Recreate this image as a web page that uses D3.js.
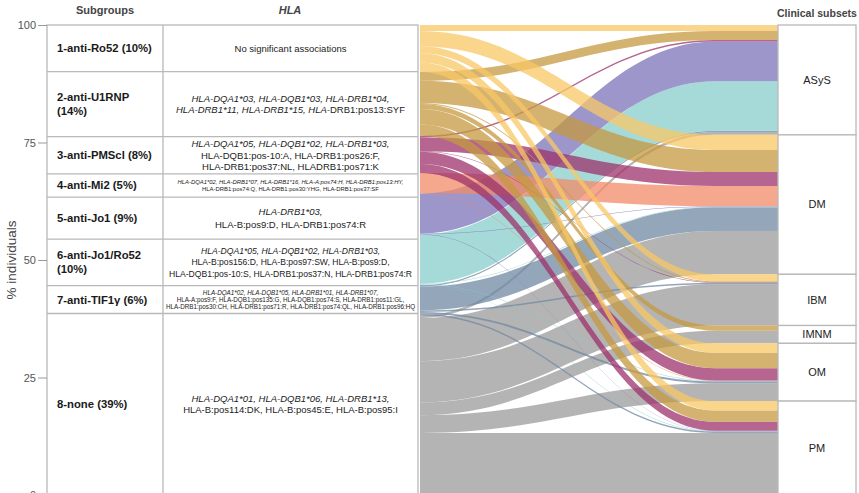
<!DOCTYPE html>
<html>
<head>
<meta charset="utf-8">
<script src="https://cdn.jsdelivr.net/npm/d3@7"></script>
<style>
  html, body { margin: 0; padding: 0; background: #fff; }
  svg { display: block; font-family: "Liberation Sans", Arial, Helvetica, sans-serif; }
</style>
</head>
<body>
<svg id="chart" width="859" height="493"></svg>
<script>
// ---------------- DATA ----------------
const subgroupLabels = [
  ["1-anti-Ro52 (10%)"],
  ["2-anti-U1RNP", "(14%)"],
  ["3-anti-PMScl (8%)"],
  ["4-anti-Mi2 (5%)"],
  ["5-anti-Jo1 (9%)"],
  ["6-anti-Jo1/Ro52", "(10%)"],
  ["7-anti-TIF1γ (6%)"],
  ["8-none (39%)"]
];
const subgroupPct = [10, 14, 8, 5, 9, 10, 6, 39];

const clinicalSubsets = ["ASyS", "DM", "IBM", "IMNM", "OM", "PM"];

// % individuals flowing from each subgroup (rows) to each clinical subset (columns)
const flowsSg1 = [1.3, 3.2, 1.5, 0.0, 2.0, 2.0];
const flowsSg2 = [1.9, 4.7, 0.2, 1.1, 3.3, 2.4];
const flowsSg3 = [0.3, 3.0, 0.1, 0.0, 2.6, 1.9];
const flowsSg4 = [0.0, 4.3, 0.0, 0.0, 0.1, 0.0];
const flowsSg5 = [8.5, 0.1, 0.0, 0.0, 0.0, 0.1];
const flowsSg6 = [10.5, 0.1, 0.0, 0.0, 0.1, 0.1];
const flowsSg7 = [0.3, 5.1, 0.3, 0.0, 0.4, 0.3];
const flowsSg8 = [0.6, 9.2, 8.8, 2.7, 3.8, 13.2];
const flowMatrix = [flowsSg1, flowsSg2, flowsSg3, flowsSg4, flowsSg5, flowsSg6, flowsSg7, flowsSg8];

const yTicks = [0, 25, 50, 75, 100];

// HLA associations: each row = lines; each line = segments [text, italic]
const hlaRows = [
  [[["No significant associations", false]]],
  [[["HLA-DQA1*03, HLA-DQB1*03, HLA-DRB1*04,", true]],
   [["HLA-DRB1*11,  HLA-DRB1*15, HLA-", true], ["DRB1:pos13:SYF", false]]],
  [[["HLA-DQA1*05, HLA-DQB1*02, HLA-DRB1*03,", true]],
   [["HLA-DQB1:pos-10:A, HLA-DRB1:pos26:F,", false]],
   [["HLA-DRB1:pos37:NL, HLADRB1:pos71:K", false]]],
  [[["HLA-DQA1*02, HLA-DRB1*07, HLA-DRB1*16, HLA-A:pos74:H, HLA-DRB1:pos13:HY,", true]],
   [["HLA-DRB1:pos74:Q, HLA-DRB1:pos30:YHG, HLA-DRB1:pos37:SF", false]]],
  [[["HLA-DRB1*03,", true]],
   [["HLA-B:pos9:D, HLA-DRB1:pos74:R", false]]],
  [[["HLA-DQA1*05, HLA-DQB1*02, HLA-DRB1*03,", true]],
   [["HLA-B:pos156:D, HLA-B:pos97:SW, HLA-B:pos9:D,", false]],
   [["HLA-DQB1:pos-10:S, HLA-DRB1:pos37:N, HLA-DRB1:pos74:R", false]]],
  [[["HLA-DQA1*02, HLA-DQB1*05, HLA-DRB1*01, HLA-DRB1*07,", true]],
   [["HLA-A:pos9:F, HLA-DQB1:pos135:G, HLA-DQB1:pos74:S, HLA-DRB1:pos11:GL,", false]],
   [["HLA-DRB1:pos30:CH, HLA-DRB1:pos71:R, HLA-DRB1:pos74:QL, HLA-DRB1:pos96:HQ", false]]],
  [[["HLA-DQA1*01, HLA-DQB1*06, HLA-DRB1*13,", true]],
   [["HLA-B:pos114:DK, HLA-B:pos45:E, HLA-B:pos95:I", false]]]
];

// ---------------- STYLE / LAYOUT ----------------
const flowColors = ["#F8C766", "#C69840", "#9C326A", "#F28B68", "#7C73BA", "#87CECC", "#7088A3", "#9B9B9B"];
const hlaFontSize = [9.5, 9.5, 9.5, 5.9, 9.5, 8.6, 6.3, 9.5];
const hlaLineGap  = [11, 11.5, 11.5, 7.2, 12.5, 11.5, 7.2, 11.5];
const gridColor = "#b9b9b9";

const svg = d3.select("#chart");
const xAxisLine = 47, xSubEnd = 163, xHlaEnd = 418;
const xFlowStart = 420, xFlowCurveEnd = 715, xFlowEnd = 778, xBoxEnd = 856;

const y = d3.scaleLinear().domain([0, 100]).range([495, 25]);

// ---------- flows ----------
const nS = flowMatrix.length, nD = clinicalSubsets.length;
const total = d3.sum(flowMatrix.flat());
const h = v => y(0) - y(v / total * 100);

const srcTop = [], dstTop = [];
let acc = y(100);
for (let i = 0; i < nS; i++) { srcTop.push(acc); acc += h(d3.sum(flowMatrix[i])); }
acc = y(100);
const dstTotals = clinicalSubsets.map((_, j) => d3.sum(flowMatrix, r => r[j]));
for (let j = 0; j < nD; j++) { dstTop.push(acc); acc += h(dstTotals[j]); }

const links = [];
const srcCursor = srcTop.slice(), dstCursor = dstTop.slice();
for (let i = 0; i < nS; i++) {
  for (let j = 0; j < nD; j++) {
    const v = flowMatrix[i][j];
    links.push({ i, j, v, y0: srcCursor[i] });
    srcCursor[i] += h(v);
  }
}
for (let j = 0; j < nD; j++) {
  for (let i = 0; i < nS; i++) {
    const l = links.find(d => d.i === i && d.j === j);
    l.y1 = dstCursor[j];
    dstCursor[j] += h(l.v);
  }
}

const k = 0.42, w = xFlowCurveEnd - xFlowStart;
const c1 = xFlowStart + k * w, c2 = xFlowCurveEnd - k * w;
function flowPath(d) {
  const th = h(d.v);
  const p = d3.path();
  p.moveTo(xFlowStart, d.y0);
  p.bezierCurveTo(c1, d.y0, c2, d.y1, xFlowCurveEnd, d.y1);
  p.lineTo(xFlowEnd, d.y1);
  p.lineTo(xFlowEnd, d.y1 + th);
  p.lineTo(xFlowCurveEnd, d.y1 + th);
  p.bezierCurveTo(c2, d.y1 + th, c1, d.y0 + th, xFlowStart, d.y0 + th);
  p.closePath();
  return p.toString();
}

svg.append("g")
  .selectAll("path")
  .data(links.filter(d => d.v > 0).sort((a, b) => b.i - a.i))
  .join("path")
  .attr("d", flowPath)
  .attr("fill", d => flowColors[d.i])
  .attr("fill-opacity", 0.75)
  .attr("stroke", "none");

// ---------- left table ----------
const pctTotal = d3.sum(subgroupPct);
const rowTop = [];
acc = 0;
subgroupPct.forEach(p => { rowTop.push(y(100 - acc)); acc += p / pctTotal * 100; });
rowTop.push(y(0));

const table = svg.append("g");
table.append("rect").attr("x", xAxisLine).attr("y", y(100))
  .attr("width", xHlaEnd - xAxisLine).attr("height", y(0) - y(100) + 5)
  .attr("fill", "none").attr("stroke", gridColor).attr("stroke-width", 1.3);
table.append("line").attr("x1", xSubEnd).attr("x2", xSubEnd).attr("y1", y(100)).attr("y2", y(0) + 5)
  .attr("stroke", gridColor).attr("stroke-width", 1.3);
table.selectAll("line.row").data(rowTop.slice(1, -1)).join("line")
  .attr("class", "row").attr("x1", xAxisLine).attr("x2", xHlaEnd)
  .attr("y1", d => d).attr("y2", d => d)
  .attr("stroke", gridColor).attr("stroke-width", 1.3);

// subgroup labels
subgroupLabels.forEach((lines, r) => {
  const cy = (rowTop[r] + rowTop[r + 1]) / 2;
  const lh = 14;
  const t = table.append("text").attr("x", 57).attr("font-size", 11.3).attr("font-weight", "bold").attr("fill", "#1a1a1a");
  lines.forEach((ln, li) => {
    t.append("tspan").attr("x", 57)
      .attr("y", cy + (li - (lines.length - 1) / 2) * lh)
      .attr("dy", "0.35em").text(ln);
  });
});

// HLA texts
hlaRows.forEach((lines, r) => {
  const cy = (rowTop[r] + rowTop[r + 1]) / 2;
  const lh = hlaLineGap[r];
  lines.forEach((segs, li) => {
    const t = table.append("text").attr("x", (xSubEnd + xHlaEnd) / 2)
      .attr("y", cy + (li - (lines.length - 1) / 2) * lh).attr("dy", "0.35em")
      .attr("text-anchor", "middle").attr("font-size", hlaFontSize[r]).attr("fill", "#222");
    segs.forEach(([txt, it]) => t.append("tspan").attr("font-style", it ? "italic" : "normal").text(txt));
  });
});

// headers
svg.append("text").attr("x", 105).attr("y", 14).attr("text-anchor", "middle")
  .attr("font-size", 11).attr("font-weight", "bold").attr("fill", "#444").text("Subgroups");
svg.append("text").attr("x", 290).attr("y", 14).attr("text-anchor", "middle")
  .attr("font-size", 11).attr("font-weight", "bold").attr("font-style", "italic").attr("fill", "#444").text("HLA");
svg.append("text").attr("x", 817).attr("y", 17).attr("text-anchor", "middle")
  .attr("font-size", 10.5).attr("font-weight", "bold").attr("fill", "#444").text("Clinical subsets");

// ---------- y axis ----------
const axis = svg.append("g").attr("transform", `translate(${xAxisLine},0)`)
  .call(d3.axisLeft(y).tickValues(yTicks).tickSize(9).tickPadding(2).tickFormat(d3.format("d")));
axis.select(".domain").remove();
axis.selectAll(".tick line").attr("stroke", "#999").attr("stroke-width", 1);
axis.selectAll(".tick text").attr("fill", "#555").attr("font-size", 11)
  .attr("font-family", "'Liberation Sans', Arial, sans-serif");

svg.append("text").attr("transform", `translate(16,${y(50)}) rotate(-90)`)
  .attr("text-anchor", "middle").attr("font-size", 13.5).attr("fill", "#444").text("% individuals");

// ---------- right boxes ----------
const boxes = svg.append("g");
clinicalSubsets.forEach((name, j) => {
  const top = dstTop[j], bot = dstTop[j] + h(dstTotals[j]);
  boxes.append("rect").attr("x", xFlowEnd).attr("y", top)
    .attr("width", xBoxEnd - xFlowEnd).attr("height", bot - top)
    .attr("fill", "#fff").attr("stroke", gridColor).attr("stroke-width", 1.3);
  boxes.append("text").attr("x", (xFlowEnd + xBoxEnd) / 2).attr("y", (top + bot) / 2).attr("dy", "0.35em")
    .attr("text-anchor", "middle").attr("font-size", 11).attr("fill", "#222").text(name);
});
</script>
</body>
</html>
